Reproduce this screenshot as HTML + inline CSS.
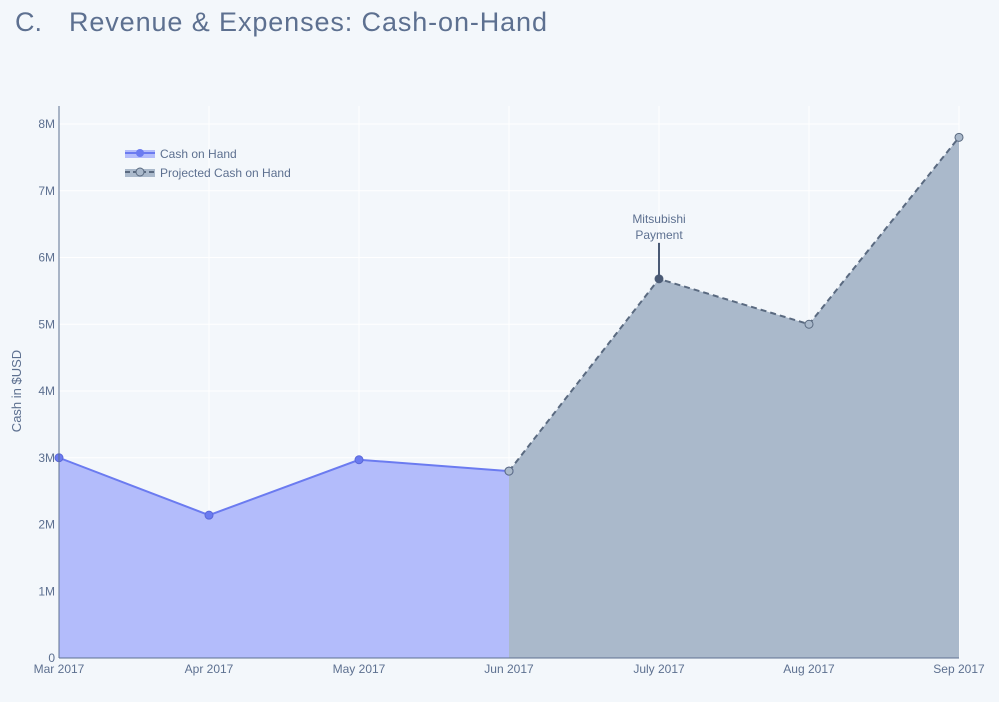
<!DOCTYPE html>
<html><head><meta charset="utf-8"><style>
html,body{margin:0;padding:0;background:#f3f7fb;}
svg text{font-family:"Liberation Sans",sans-serif;}
</style></head><body>
<svg id="chart" width="999" height="697" xmlns="http://www.w3.org/2000/svg">
<rect width="999" height="697" fill="#f3f7fb"/>
<g>
<text x="15" y="31" font-size="27" fill="#5d7090">C.</text>
<text x="69" y="31" font-size="27" fill="#5d7090" textLength="478" lengthAdjust="spacing">Revenue &amp; Expenses: Cash-on-Hand</text>
</g>
<g id="grid"></g>
<g id="marks"></g>
<g id="axes"></g>
<text transform="translate(21,391) rotate(-90)" text-anchor="middle" font-size="13" fill="#5d7090">Cash in $USD</text>
<g>
<g>
<rect x="125" y="150" width="30" height="8" fill="#b3bcfb"/><line x1="125" y1="153" x2="155" y2="153" stroke="#6b7bf0" stroke-width="2"/><circle cx="140" cy="153" r="4" fill="#6b7bf0"/>
<text x="160" y="158" font-size="12" fill="#5d7090">Cash on Hand</text></g>
<g>
<rect x="125" y="169" width="30" height="8" fill="#aab9cb"/><line x1="125" y1="172" x2="155" y2="172" stroke="#5a6a80" stroke-width="2" stroke-dasharray="5,3"/><circle cx="140" cy="172" r="4" fill="#aab9cb" stroke="#5a6a80"/>
<text x="160" y="177" font-size="12" fill="#5d7090">Projected Cash on Hand</text></g>
</g>
</svg>
<script>
const categories=["Mar 2017","Apr 2017","May 2017","Jun 2017","July 2017","Aug 2017","Sep 2017"];
const actualValues=[3.0,2.14,2.97,2.8];
const projectedValues=[2.8,5.68,5.0,7.8];
const projectedStart=3;
const yTicks=[0,1,2,3,4,5,6,7,8];
const yTickLabels=["0","1M","2M","3M","4M","5M","6M","7M","8M"];
const NS="http://www.w3.org/2000/svg";
const X0=59,X1=959,Y0=658,Y8=124;
const xs=i=>X0+(X1-X0)*i/(categories.length-1);
const ys=v=>Y0-(Y0-Y8)*v/8;
function mk(tag,attrs,parent){const e=document.createElementNS(NS,tag);for(const k in attrs)e.setAttribute(k,attrs[k]);parent.appendChild(e);return e;}
const grid=document.getElementById('grid'),marks=document.getElementById('marks'),axes=document.getElementById('axes');
yTicks.forEach((t,i)=>{
 if(t>0){const l=mk('line',{x1:X0,x2:X1,y1:ys(t),y2:ys(t),stroke:'#ffffff','stroke-width':1},grid);
 
 }
 const tx=mk('text',{x:X0-4,y:ys(t)+4,'text-anchor':'end','font-size':12,fill:'#5d7090'},axes);tx.textContent=yTickLabels[i];
 
 
});
categories.forEach((c,i)=>{
 if(i>0){const l=mk('line',{x1:xs(i),x2:xs(i),y1:106,y2:Y0,stroke:'#ffffff','stroke-width':1},grid);
 
 }
 const tx=mk('text',{x:xs(i),y:673,'text-anchor':'middle','font-size':12,fill:'#5d7090'},axes);tx.textContent=c;
 
 
});
const ax=mk('line',{x1:X0,x2:X0,y1:106,y2:Y0,stroke:'#5d7090','stroke-width':1},axes);


const bx=mk('line',{x1:X0,x2:X1,y1:Y0,y2:Y0,stroke:'#5d7090','stroke-width':1},axes);


let pts=actualValues.map((v,i)=>xs(i)+','+ys(v));
const a1=mk('polygon',{points:xs(0)+','+Y0+' '+pts.join(' ')+' '+xs(actualValues.length-1)+','+Y0,fill:'#b3bcfb'},marks);


let ppts=projectedValues.map((v,i)=>xs(i+projectedStart)+','+ys(v));
const a2=mk('polygon',{points:xs(projectedStart)+','+Y0+' '+ppts.join(' ')+' '+xs(projectedStart+projectedValues.length-1)+','+Y0,fill:'#aab9cb'},marks);


const l1=mk('polyline',{points:pts.join(' '),fill:'none',stroke:'#6b7bf0','stroke-width':2},marks);


const l2=mk('polyline',{points:ppts.join(' '),fill:'none',stroke:'#5a6a80','stroke-width':2,'stroke-dasharray':'6,4'},marks);


actualValues.forEach((v,i)=>{const c=mk('circle',{cx:xs(i),cy:ys(v),r:4,fill:'#6b7bf0',stroke:'#5a67d8','stroke-width':1},marks);
 
 });
projectedValues.forEach((v,i)=>{const c=mk('circle',{cx:xs(i+projectedStart),cy:ys(v),r:4,fill:'#aab9cb',stroke:'#5a6a80','stroke-width':1},marks);
 
 });
const ax2=xs(4),ay=ys(projectedValues[1]);
const al=mk('line',{x1:ax2,x2:ax2,y1:ay,y2:ay-36,stroke:'#4a5a75','stroke-width':2},marks);


const ad=mk('circle',{cx:ax2,cy:ay,r:4,fill:'#4a5a75'},marks);


['Mitsubishi','Payment'].forEach((s,i)=>{const t=mk('text',{x:ax2,y:ay-56+i*16,'text-anchor':'middle','font-size':12,fill:'#5d7090'},marks);t.textContent=s;
 
 });
</script>
</body></html>
